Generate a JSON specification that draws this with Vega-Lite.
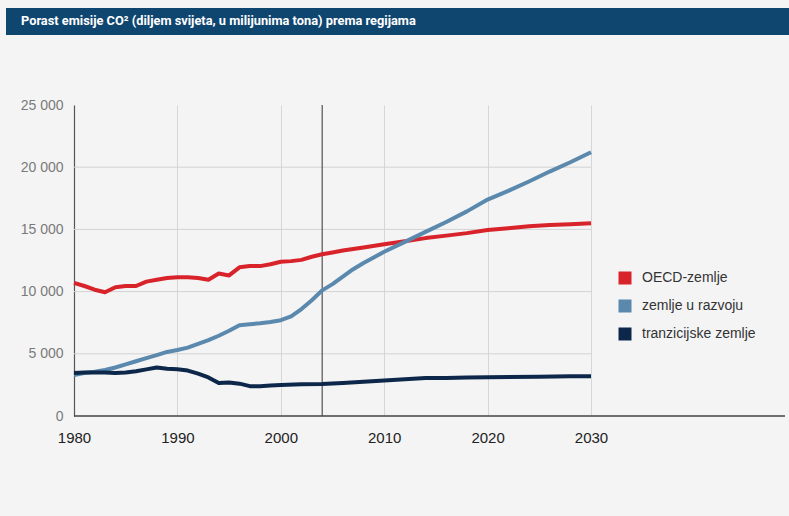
{
  "$schema": "https://vega.github.io/schema/vega-lite/v6.json",
  "background": "#f4f4f4",
  "padding": {"left": 6, "top": 8, "right": 0, "bottom": 72},
  "spacing": 63,
  "config": {"view": {"stroke": null}, "font": "Liberation Sans"},
  "datasets": {
    "header": [{"t": "Porast emisije CO² (diljem svijeta, u milijunima tona) prema regijama"}],
    "grid": [{"v": 5000}, {"v": 10000}, {"v": 15000}, {"v": 20000}],
    "marker": [{"year": 2004}],
    "emissions": [
      {"year": 1980, "region": "OECD-zemlje", "value": 10700},
      {"year": 1981, "region": "OECD-zemlje", "value": 10450},
      {"year": 1982, "region": "OECD-zemlje", "value": 10150},
      {"year": 1983, "region": "OECD-zemlje", "value": 9950},
      {"year": 1984, "region": "OECD-zemlje", "value": 10350},
      {"year": 1985, "region": "OECD-zemlje", "value": 10450},
      {"year": 1986, "region": "OECD-zemlje", "value": 10450},
      {"year": 1987, "region": "OECD-zemlje", "value": 10800},
      {"year": 1988, "region": "OECD-zemlje", "value": 10950},
      {"year": 1989, "region": "OECD-zemlje", "value": 11100},
      {"year": 1990, "region": "OECD-zemlje", "value": 11150},
      {"year": 1991, "region": "OECD-zemlje", "value": 11150},
      {"year": 1992, "region": "OECD-zemlje", "value": 11100},
      {"year": 1993, "region": "OECD-zemlje", "value": 10950},
      {"year": 1994, "region": "OECD-zemlje", "value": 11450},
      {"year": 1995, "region": "OECD-zemlje", "value": 11300},
      {"year": 1996, "region": "OECD-zemlje", "value": 11950},
      {"year": 1997, "region": "OECD-zemlje", "value": 12050},
      {"year": 1998, "region": "OECD-zemlje", "value": 12050},
      {"year": 1999, "region": "OECD-zemlje", "value": 12200},
      {"year": 2000, "region": "OECD-zemlje", "value": 12400},
      {"year": 2001, "region": "OECD-zemlje", "value": 12450},
      {"year": 2002, "region": "OECD-zemlje", "value": 12550},
      {"year": 2003, "region": "OECD-zemlje", "value": 12800},
      {"year": 2004, "region": "OECD-zemlje", "value": 13000},
      {"year": 2005, "region": "OECD-zemlje", "value": 13150},
      {"year": 2006, "region": "OECD-zemlje", "value": 13300},
      {"year": 2008, "region": "OECD-zemlje", "value": 13550},
      {"year": 2010, "region": "OECD-zemlje", "value": 13800},
      {"year": 2012, "region": "OECD-zemlje", "value": 14050},
      {"year": 2014, "region": "OECD-zemlje", "value": 14300},
      {"year": 2016, "region": "OECD-zemlje", "value": 14500},
      {"year": 2018, "region": "OECD-zemlje", "value": 14700},
      {"year": 2020, "region": "OECD-zemlje", "value": 14950},
      {"year": 2022, "region": "OECD-zemlje", "value": 15100},
      {"year": 2024, "region": "OECD-zemlje", "value": 15250},
      {"year": 2026, "region": "OECD-zemlje", "value": 15350},
      {"year": 2028, "region": "OECD-zemlje", "value": 15420},
      {"year": 2030, "region": "OECD-zemlje", "value": 15500},
      {"year": 1980, "region": "zemlje u razvoju", "value": 3300},
      {"year": 1981, "region": "zemlje u razvoju", "value": 3450},
      {"year": 1982, "region": "zemlje u razvoju", "value": 3550},
      {"year": 1983, "region": "zemlje u razvoju", "value": 3700},
      {"year": 1984, "region": "zemlje u razvoju", "value": 3900},
      {"year": 1985, "region": "zemlje u razvoju", "value": 4150},
      {"year": 1986, "region": "zemlje u razvoju", "value": 4400},
      {"year": 1987, "region": "zemlje u razvoju", "value": 4650},
      {"year": 1988, "region": "zemlje u razvoju", "value": 4900},
      {"year": 1989, "region": "zemlje u razvoju", "value": 5150},
      {"year": 1990, "region": "zemlje u razvoju", "value": 5300},
      {"year": 1991, "region": "zemlje u razvoju", "value": 5500},
      {"year": 1992, "region": "zemlje u razvoju", "value": 5800},
      {"year": 1993, "region": "zemlje u razvoju", "value": 6100},
      {"year": 1994, "region": "zemlje u razvoju", "value": 6450},
      {"year": 1995, "region": "zemlje u razvoju", "value": 6850},
      {"year": 1996, "region": "zemlje u razvoju", "value": 7300},
      {"year": 1997, "region": "zemlje u razvoju", "value": 7380},
      {"year": 1998, "region": "zemlje u razvoju", "value": 7450},
      {"year": 1999, "region": "zemlje u razvoju", "value": 7550},
      {"year": 2000, "region": "zemlje u razvoju", "value": 7700},
      {"year": 2001, "region": "zemlje u razvoju", "value": 8000},
      {"year": 2002, "region": "zemlje u razvoju", "value": 8600},
      {"year": 2003, "region": "zemlje u razvoju", "value": 9300},
      {"year": 2004, "region": "zemlje u razvoju", "value": 10100},
      {"year": 2005, "region": "zemlje u razvoju", "value": 10600},
      {"year": 2006, "region": "zemlje u razvoju", "value": 11200},
      {"year": 2007, "region": "zemlje u razvoju", "value": 11800},
      {"year": 2008, "region": "zemlje u razvoju", "value": 12300},
      {"year": 2010, "region": "zemlje u razvoju", "value": 13200},
      {"year": 2012, "region": "zemlje u razvoju", "value": 14000},
      {"year": 2014, "region": "zemlje u razvoju", "value": 14800},
      {"year": 2016, "region": "zemlje u razvoju", "value": 15600},
      {"year": 2018, "region": "zemlje u razvoju", "value": 16450},
      {"year": 2020, "region": "zemlje u razvoju", "value": 17400},
      {"year": 2022, "region": "zemlje u razvoju", "value": 18100},
      {"year": 2024, "region": "zemlje u razvoju", "value": 18850},
      {"year": 2026, "region": "zemlje u razvoju", "value": 19650},
      {"year": 2028, "region": "zemlje u razvoju", "value": 20400},
      {"year": 2030, "region": "zemlje u razvoju", "value": 21200},
      {"year": 1980, "region": "tranzicijske zemlje", "value": 3450},
      {"year": 1981, "region": "tranzicijske zemlje", "value": 3500},
      {"year": 1982, "region": "tranzicijske zemlje", "value": 3500},
      {"year": 1983, "region": "tranzicijske zemlje", "value": 3500},
      {"year": 1984, "region": "tranzicijske zemlje", "value": 3450},
      {"year": 1985, "region": "tranzicijske zemlje", "value": 3500},
      {"year": 1986, "region": "tranzicijske zemlje", "value": 3600},
      {"year": 1987, "region": "tranzicijske zemlje", "value": 3750},
      {"year": 1988, "region": "tranzicijske zemlje", "value": 3900},
      {"year": 1989, "region": "tranzicijske zemlje", "value": 3800},
      {"year": 1990, "region": "tranzicijske zemlje", "value": 3750},
      {"year": 1991, "region": "tranzicijske zemlje", "value": 3650},
      {"year": 1992, "region": "tranzicijske zemlje", "value": 3400},
      {"year": 1993, "region": "tranzicijske zemlje", "value": 3100},
      {"year": 1994, "region": "tranzicijske zemlje", "value": 2650},
      {"year": 1995, "region": "tranzicijske zemlje", "value": 2700},
      {"year": 1996, "region": "tranzicijske zemlje", "value": 2600},
      {"year": 1997, "region": "tranzicijske zemlje", "value": 2400},
      {"year": 1998, "region": "tranzicijske zemlje", "value": 2400},
      {"year": 1999, "region": "tranzicijske zemlje", "value": 2450},
      {"year": 2000, "region": "tranzicijske zemlje", "value": 2500},
      {"year": 2002, "region": "tranzicijske zemlje", "value": 2550},
      {"year": 2004, "region": "tranzicijske zemlje", "value": 2580},
      {"year": 2006, "region": "tranzicijske zemlje", "value": 2650},
      {"year": 2008, "region": "tranzicijske zemlje", "value": 2750},
      {"year": 2010, "region": "tranzicijske zemlje", "value": 2850},
      {"year": 2012, "region": "tranzicijske zemlje", "value": 2950},
      {"year": 2014, "region": "tranzicijske zemlje", "value": 3050},
      {"year": 2016, "region": "tranzicijske zemlje", "value": 3050},
      {"year": 2018, "region": "tranzicijske zemlje", "value": 3100},
      {"year": 2020, "region": "tranzicijske zemlje", "value": 3120},
      {"year": 2025, "region": "tranzicijske zemlje", "value": 3150},
      {"year": 2028, "region": "tranzicijske zemlje", "value": 3200},
      {"year": 2030, "region": "tranzicijske zemlje", "value": 3200}
    ]
  },
  "vconcat": [
    {
      "width": 783,
      "height": 27,
      "view": {"fill": "#0f4670", "stroke": null},
      "title": {
        "text": "Porast emisije CO² (diljem svijeta, u milijunima tona) prema regijama",
        "anchor": "start",
        "frame": "group",
        "orient": "top",
        "offset": -20,
        "dx": 15,
        "color": "#ffffff",
        "font": "Roboto",
        "fontSize": 12.8,
        "fontWeight": "bold"
      },
      "data": {"name": "header"},
      "mark": {"type": "text", "opacity": 0},
      "encoding": {"text": {"field": "t", "type": "nominal"}}
    },
    {
      "width": 779,
      "height": 311,
      "layer": [
        {
          "data": {"name": "grid"},
          "mark": {"type": "rule", "color": "#d3d3d3", "strokeWidth": 1},
          "encoding": {
            "y": {"field": "v", "type": "quantitative"},
            "x": {"datum": 1980, "type": "quantitative"},
            "x2": {"datum": 2030}
          }
        },
        {
          "data": {"name": "marker"},
          "mark": {"type": "rule", "color": "#333333", "strokeWidth": 1},
          "encoding": {
            "x": {"field": "year", "type": "quantitative"}
          }
        },
        {
          "data": {"name": "marker"},
          "mark": {"type": "rule", "color": "#444444", "strokeWidth": 1.5},
          "encoding": {
            "y": {"datum": 0, "type": "quantitative"},
            "x": {"datum": 1980, "type": "quantitative"},
            "x2": {"datum": 2048.762}
          }
        },
        {
          "data": {"name": "emissions"},
          "mark": {"type": "line", "strokeWidth": 4, "strokeJoin": "round"},
          "encoding": {
            "x": {
              "field": "year",
              "type": "quantitative",
              "scale": {"domain": [1973.424, 2048.762], "nice": false, "zero": false},
              "axis": {
                "values": [1980, 1990, 2000, 2010, 2020, 2030],
                "format": "d",
                "title": null,
                "grid": true,
                "gridColor": "#d6d6d6",
                "gridWidth": 1,
                "domain": false,
                "ticks": false,
                "labelPadding": 14,
                "labelFontSize": 15,
                "labelDx": 3,
                "labelColor": "#222222",
                "labelFont": "Liberation Sans"
              }
            },
            "y": {
              "field": "value",
              "type": "quantitative",
              "scale": {"domain": [0, 25000], "nice": false},
              "axis": {
                "values": [0, 5000, 10000, 15000, 20000, 25000],
                "labelExpr": "replace(format(datum.value, ','), ',', ' ')",
                "title": null,
                "grid": false,
                "offset": -68,
                "domainColor": "#555555",
                "domainWidth": 1.2,
                "ticks": false,
                "labelPadding": 11,
                "labelFontSize": 14,
                "labelColor": "#7a7a7a",
                "labelFont": "Liberation Sans"
              }
            },
            "color": {
              "field": "region",
              "type": "nominal",
              "scale": {
                "domain": ["OECD-zemlje", "zemlje u razvoju", "tranzicijske zemlje"],
                "range": ["#d8232b", "#5a89ad", "#0c2749"]
              },
              "legend": {
                "orient": "none",
                "legendX": 612,
                "legendY": 263,
                "title": null,
                "symbolType": "square",
                "symbolSize": 169,
                "symbolStrokeWidth": 0,
                "labelFontSize": 14,
                "labelColor": "#333333",
                "labelFont": "Liberation Sans",
                "labelOffset": 10,
                "rowPadding": 14,
                "encode": {"symbols": {"update": {"fill": {"scale": "color", "field": "value"}, "opacity": {"value": 1}}}}
              }
            }
          }
        }
      ]
    }
  ]
}
